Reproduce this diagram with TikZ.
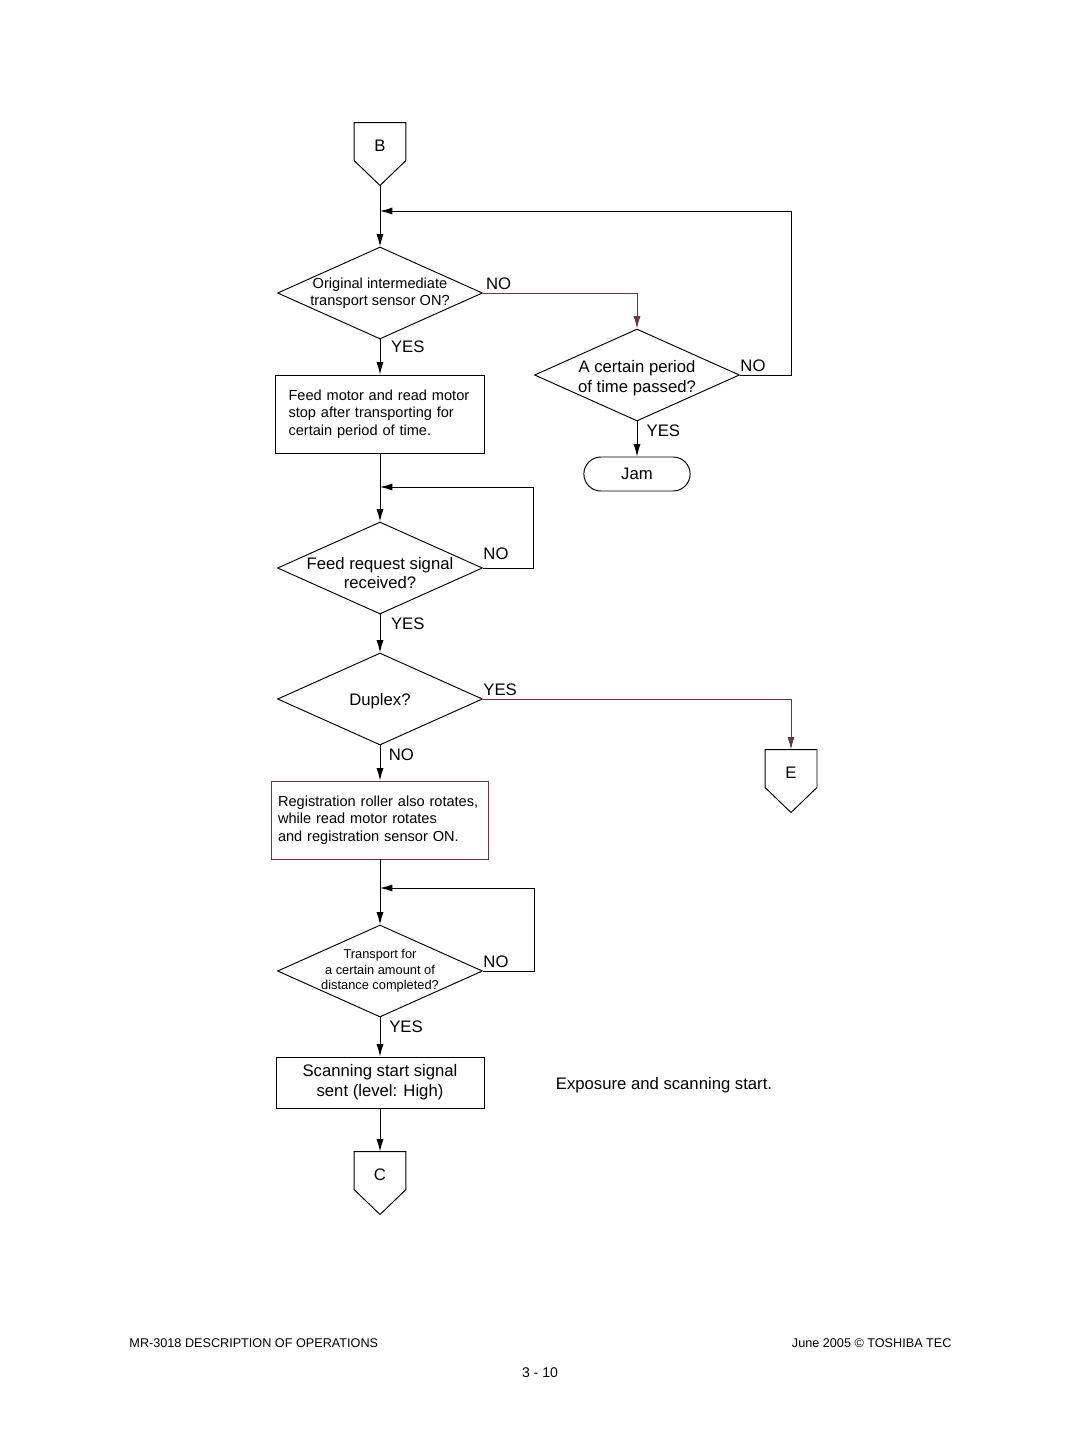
\documentclass[tikz,border=0pt]{standalone}
\usepackage{fontspec}
\setmainfont{Liberation Sans}
\usetikzlibrary{arrows.meta,shapes.geometric,shapes.misc}

\definecolor{wire}{RGB}{105,55,55}

\begin{document}
\begin{tikzpicture}[x=0.02cm,y=-0.02cm,>={Latex[length=7pt,width=4pt]},line width=0.55pt,
    big/.style={font=\fontsize{9.5}{11.3}\selectfont},
    small/.style={font=\fontsize{8.3}{9.9}\selectfont},
    tiny/.style={font=\fontsize{7.3}{8.8}\selectfont},
    decision/.style={diamond,draw,aspect=2.25,minimum width=4.1cm,minimum height=1.84cm,inner sep=-4pt,align=center},
    process/.style={rectangle,draw,minimum height=1.56cm,align=left},
    offpage/.style={rectangle,minimum width=1.02cm,minimum height=0.74cm,inner sep=0pt,big,
      execute at begin node={\rule{0pt}{11.8pt}},
      append after command={\pgfextra{\let\offname\tikzlastnode
        \draw (\offname.north west) -- (\offname.north east) -- (\offname.south east)
          -- ([yshift=-0.5cm]\offname.south) -- (\offname.south west) -- cycle;
        \coordinate (\offname-tip) at ([yshift=-0.5cm]\offname.south);}}},
    yesno/.style={inner sep=1.5pt,big},
    footer/.style={inner sep=0pt,font=\fontsize{7.2}{8}\selectfont}]
  \useasboundingbox (0,0) rectangle (1080,1441);

  \node[offpage] (B) at (380,141.5) {B};
  \coordinate (j1) at (380,211);

  \node[decision,small] (d1) at (380,293) {Original intermediate\\transport sensor ON?};
  \node[decision,big] (d2) at (637,375) {\rule{0pt}{10.3pt}A certain period\\of time passed?};
  \node[rounded rectangle,draw,big,minimum width=2.36cm,minimum height=0.68cm] (jam) at (637,474) {Jam};

  \node[process,small,text width=3.66cm,inner xsep=0.26cm] (p1) at (380,414)
    {Feed motor and read motor\\stop after transporting for\\certain period of time.};
  \coordinate (j2) at (380,487);

  \node[decision,big] (d3) at (380,568) {\rule{0pt}{12.6pt}Feed request signal\\received?};
  \node[decision,big] (d4) at (380,699) {\rule{0pt}{9pt}Duplex?};
  \node[offpage] (E) at (791,768.5) {E};

  \node[process,small,text width=4.08cm,inner xsep=0.14cm,draw=wire] (p2) at (380,820)
    {Registration roller also rotates,\\while read motor rotates\\and registration sensor ON.};
  \coordinate (j3) at (380,888);

  \node[decision,tiny] (d5) at (380,971) {Transport for\\a certain amount of\\distance completed?};
  \node[process,big,align=center,minimum width=4.16cm,minimum height=1.02cm] (p3) at (380,1082.5)
    {Scanning start signal\\sent (level: High)};
  \node[big] (note) at (664,1085) {Exposure and scanning start.};

  \node[offpage] (C) at (380,1170.5) {C};

  % main line
  \draw (B-tip) -- (j1);
  \path[->]
  (j1) edge (d1.north)
  (d1.south) edge node[yesno,anchor=north west,pos=0,xshift=4.5pt,yshift=1pt] {YES} (p1.north)
  (j2) edge (d3.north)
  (d3.south) edge node[yesno,anchor=north west,pos=0,xshift=4.5pt] {YES} (d4.north)
  (d4.south) edge node[yesno,anchor=north west,pos=0,xshift=3.3pt] {NO} (p2.north)
  (j3) edge (d5.north)
  (d5.south) edge node[yesno,anchor=north west,pos=0,xshift=3.5pt] {YES} (p3.north)
  (p3.south) edge (C.north)
  (d2.south) edge node[yesno,anchor=north west,pos=0,xshift=3.7pt] {YES} (jam.north)
  ;
  \draw (p1.south) -- (j2);
  \draw (p2.south) -- (j3);

  % branches and loops
  \draw[->,wire] (d1.east) node[yesno,anchor=south west,black] {NO} -| (d2.north);
  \draw[->] (d2.east) node[yesno,anchor=south west,xshift=-1.5pt] {NO} -- ++(52,0) |- (j1);
  \draw[->] (d3.east) node[yesno,anchor=south west,xshift=-1.5pt,yshift=3pt] {NO} -- ++(51,0) |- (j2);
  \draw[->,wire] (d4.east) node[yesno,anchor=south west,black,inner xsep=0pt] {YES} -| (E.north);
  \draw[->] (d5.east) node[yesno,anchor=south west,xshift=-1.5pt] {NO} -- ++(52,0) |- (j3);

  % page footer
  \node[footer,anchor=base west] (foot1) at (129,1347) {MR-3018 DESCRIPTION OF OPERATIONS};
  \node[footer,anchor=base east] (foot2) at (952,1347) {June 2005 © TOSHIBA TEC};
  \node[footer,anchor=base,font=\fontsize{8}{9}\selectfont] (page) at (540,1377) {3 - 10};
\end{tikzpicture}
\end{document}
